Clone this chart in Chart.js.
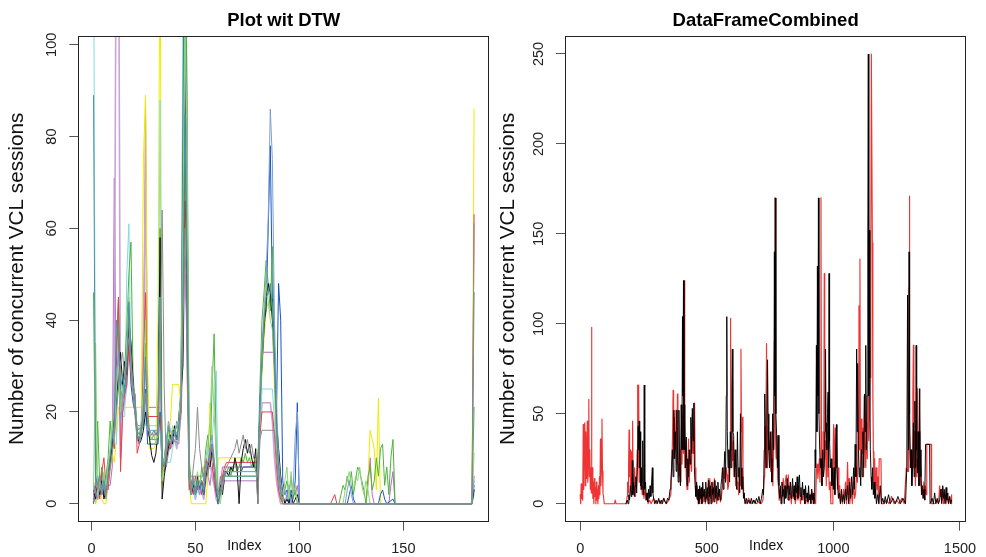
<!DOCTYPE html>
<html><head><meta charset="utf-8">
<script src="https://cdn.jsdelivr.net/npm/chart.js@4.4.1/dist/chart.umd.min.js"></script>
<style>
html,body{margin:0;padding:0;background:#fff;}
#wrap{position:relative;width:986px;height:557px;overflow:hidden;background:#fff;}
canvas{position:absolute;top:0;}
#c1{left:0;} #c2{left:493px;}
</style></head><body>
<div id="wrap"><canvas id="c1" width="493" height="557"></canvas><canvas id="c2" width="493" height="557"></canvas></div>
<script>
// ---------- tick labels ----------
const leftXTicks = [0, 50, 100, 150];
const leftYTicks = [0, 20, 40, 60, 80, 100];
const rightXTicks = [0, 500, 1000, 1500];
const rightYTicks = [0, 50, 100, 150, 200, 250];

// ---------- left panel: "Plot wit DTW" series [index, value] ----------
const dtwGray = [[1,2],[2,5],[3,3],[4,6],[5,2],[6,4],[7,1],[8,5],[9,8],[10,11],[11,15],[12,20],[13,25],[14,30],[15,33],[16,27],[17,32],[18,36],[19,30],[20,24],[21,19],[22,14],[23,13],[24,15],[25,18],[26,24],[27,20],[28,15],[32,15],[33,30],[34,64],[35,25],[36,8],[37,11],[38,13],[39,14],[42,13],[43,20],[44,38],[45,60],[46,28],[47,5],[48,3],[49,8],[50,12],[51,21],[52,12],[53,8],[54,5],[55,9],[56,6],[57,10],[58,13],[59,9],[60,4],[61,2],[62,6],[63,3],[64,7],[65,8],[66,9],[67,10],[68,11],[69,12],[70,14],[71,11],[72,13],[73,15],[74,12],[75,14],[76,11],[77,13],[78,10],[79,9],[80,0],[81,14],[82,16],[88,16],[89,10],[90,5],[91,2],[92,0],[100,0],[183,0],[184,61]];
const dtwTeal = [[1,89],[2,6],[3,4],[4,6],[5,3],[6,5],[7,2],[8,6],[9,10],[10,14],[11,17],[12,40],[13,36],[14,25],[15,28],[16,24],[17,28],[18,44],[19,32],[20,25],[21,22],[22,15],[23,14],[24,16],[25,20],[26,32],[27,17],[28,16],[29,15],[30,16],[31,15],[32,16],[33,45],[34,9],[35,8],[36,11],[37,14],[38,13],[39,15],[40,16],[41,14],[42,17],[43,21],[44,45],[45,85],[46,48],[47,6],[48,3],[49,5],[50,2],[51,5],[52,3],[53,5],[54,2],[55,7],[56,9],[57,11],[58,12],[59,8],[60,3],[61,0],[62,3],[63,5],[64,6],[80,6],[81,20],[82,32],[83,40],[84,45],[85,46],[86,48],[87,42],[88,30],[89,16],[90,8],[91,3],[92,0],[100,0],[183,0],[184,46]];
const dtwLightGreen = [[1,3],[2,35],[3,2],[4,5],[5,3],[6,7],[7,4],[8,9],[9,12],[10,18],[11,14],[12,25],[13,30],[14,20],[15,25],[16,27],[17,33],[18,45],[19,30],[20,24],[21,21],[22,17],[23,16],[24,18],[25,25],[26,40],[27,18],[28,15],[29,14],[30,15],[31,13],[32,15],[33,45],[34,5],[35,9],[36,12],[37,15],[38,13],[39,17],[40,16],[41,15],[42,18],[43,25],[44,60],[45,105],[46,80],[47,7],[48,3],[49,5],[50,4],[51,7],[52,4],[53,6],[54,8],[55,10],[56,13],[57,18],[58,30],[59,20],[60,10],[61,2],[62,0],[63,4],[64,6],[80,6],[81,18],[82,30],[83,40],[84,48],[85,44],[86,40],[87,38],[88,28],[89,12],[90,6],[91,3],[92,0],[93,5],[94,8],[95,1],[96,7],[97,2],[98,4],[99,0],[121,0],[122,3],[123,5],[124,7],[125,4],[126,3],[127,6],[128,5],[129,8],[130,4],[131,2],[132,5],[133,3],[134,0],[183,0],[184,11]];
const dtwSteel = [[1,2],[2,3],[3,1],[4,4],[5,2],[6,6],[7,3],[8,8],[9,11],[10,16],[11,13],[12,28],[13,33],[14,18],[15,22],[16,28],[17,34],[18,42],[19,31],[20,26],[21,23],[22,15],[23,14],[24,16],[25,20],[26,30],[27,16],[33,16],[34,9],[35,10],[36,13],[37,18],[38,16],[39,14],[40,15],[41,18],[42,16],[43,23],[44,50],[45,110],[46,55],[47,6],[48,2],[49,6],[50,3],[51,5],[52,2],[53,4],[54,3],[55,7],[56,9],[57,12],[58,15],[59,10],[60,5],[61,1],[62,3],[63,4],[64,6],[65,7],[79,7],[80,6],[81,22],[82,34],[83,42],[84,50],[85,62],[86,86],[87,75],[88,40],[89,22],[90,10],[91,5],[92,2],[93,3],[94,1],[95,4],[96,0],[97,3],[98,15],[99,20],[100,0],[122,0],[123,3],[124,5],[125,2],[126,0],[183,0],[184,5]];
const dtwBlack = [[1,3],[2,1],[3,4],[4,2],[5,5],[6,1],[7,3],[8,6],[9,9],[10,13],[11,18],[12,24],[13,28],[14,33],[15,26],[16,31],[17,28],[18,40],[19,35],[20,27],[21,20],[22,15],[23,13],[24,14],[25,16],[26,20],[27,17],[28,14],[29,10.5],[30,9],[31,11],[32,16],[33,58],[34,1],[35,6],[36,9],[37,12],[38,15],[39,13],[40,17],[41,14],[42,19],[43,24],[44,30],[45,96],[46,38],[47,6],[48,2],[49,4],[50,3],[51,6],[52,3],[53,5],[54,2],[55,6],[56,9],[57,8],[58,12],[59,8],[60,3],[61,0],[62,4],[63,2],[64,6],[65,7],[66,6],[67,8],[68,7],[69,10],[70,8],[71,0],[72,9],[73,12],[74,14],[75,11],[76,13],[77,10],[78,8],[79,12],[80,0],[81,22],[82,30],[83,38],[84,44],[85,48],[86,46],[87,40],[88,30],[89,18],[90,12],[91,6],[92,2],[93,0],[94,1],[95,0],[96,2],[97,0],[98,1],[99,2],[100,0],[183,0],[184,3]];
const dtwRed = [[1,4],[2,2],[3,5],[4,1],[5,7],[6,10],[7,4],[8,3],[9,8],[10,14],[11,12],[12,30],[13,45],[14,7],[15,20],[16,24],[17,26],[18,34],[19,28],[20,24],[21,24],[22,11],[23,13],[24,15],[25,30],[26,46],[27,19],[33,19],[34,8],[35,7],[36,10],[37,14],[38,12],[39,15],[40,16],[41,14],[42,18],[43,20],[44,35],[45,66],[46,53],[47,3],[48,5],[49,2],[50,6],[51,3],[52,5],[53,2],[54,4],[55,10],[56,7],[57,12],[58,9],[59,5],[60,2],[61,1],[62,3],[63,6],[64,8],[65,9],[80,9],[81,15],[82,20],[87,20],[88,15],[89,8],[90,3],[91,1],[92,0],[115,0],[117,2],[118,0],[183,0],[184,63]];
const dtwGreen = [[1,46],[2,4],[3,18],[4,4],[5,8],[6,3],[7,6],[8,10],[9,18],[10,12],[11,20],[12,35],[13,45],[14,22],[15,26],[16,30],[17,38],[18,50],[19,57],[20,28],[21,22],[22,16],[23,15],[24,17],[25,22],[26,35],[27,20],[28,14],[32,14],[33,60],[34,6],[35,10],[36,14],[37,17],[38,14],[39,16],[40,15],[41,17],[42,16],[43,22],[44,70],[45,130],[46,90],[47,10],[48,4],[49,6],[50,2],[51,5],[52,3],[53,8],[54,6],[55,12],[56,15],[57,10],[58,25],[59,37],[60,12],[61,0],[62,2],[63,6],[64,6],[65,7],[66,8],[67,6],[68,8],[69,9],[70,7],[71,8],[72,10],[73,9],[74,11],[75,9],[76,10],[77,8],[78,9],[79,7],[80,8],[81,25],[82,40],[83,46],[84,53],[85,48],[86,42],[87,56],[88,35],[89,14],[90,6],[91,3],[92,1],[93,3],[94,5],[95,2],[96,6],[97,1],[98,3],[99,0],[119,0],[120,2],[121,4],[122,3],[123,6],[124,4],[125,7],[126,2],[127,5],[128,8],[129,7],[130,5],[131,3],[132,0],[133,6],[134,8],[135,3],[136,5],[137,10],[138,6],[139,12],[140,13],[141,4],[142,8],[143,2],[144,10],[145,14],[146,0],[183,0],[184,21]];
const dtwBlue = [[1,0],[2,4],[3,6],[4,3],[5,5],[6,2],[7,5],[8,7],[9,10],[10,14],[11,16],[12,22],[13,28],[14,20],[15,24],[16,26],[17,30],[18,36],[19,26],[20,22],[21,20],[22,16],[25,17],[26,25],[27,13],[32,13],[33,20],[34,10],[35,8],[36,12],[37,17],[38,14],[39,16],[40,16],[41,15],[42,17],[43,20],[44,80],[45,150],[46,70],[47,8],[48,3],[49,5],[50,2],[51,4],[52,3],[53,5],[54,2],[55,6],[56,8],[57,11],[58,13],[59,9],[60,4],[61,0],[62,3],[63,5],[64,7],[72,7],[73,8],[80,8],[81,20],[82,32],[83,40],[84,42],[85,60],[86,78],[87,45],[88,35],[89,20],[90,48],[91,40],[92,5],[93,2],[94,3],[95,0],[96,3],[97,1],[98,5],[99,22],[100,0],[123,0],[124,2],[125,4],[126,1],[127,0],[138,0],[139,2],[140,3],[141,1],[142,0],[145,1],[146,0],[183,0],[184,4]];
const dtwCyan = [[1,130],[2,6],[8,6],[9,9],[10,12],[11,13],[12,13],[13,40],[14,20],[15,19],[16,19],[17,50],[18,61],[19,30],[20,24],[21,22],[22,14],[23,15],[24,17],[25,28],[26,17],[32,17],[33,88],[34,5],[35,9],[38,9],[39,12],[40,14],[41,13],[42,16],[43,22],[44,110],[45,130],[46,60],[47,5],[48,2],[49,4],[50,1],[51,3],[52,5],[53,2],[54,4],[55,6],[56,12],[57,10],[58,14],[59,20],[60,29],[61,0],[62,2],[63,4],[64,7],[80,7],[81,15],[82,25],[87,25],[88,18],[89,10],[90,4],[91,2],[92,0],[100,0],[183,0],[184,2]];
const dtwYellow = [[1,3],[2,0],[3,2],[4,5],[5,1],[6,0],[7,0],[8,4],[9,7],[10,11],[11,9],[12,14],[13,21],[24,21],[25,75],[26,89],[27,30],[28,12],[30,12],[31,13],[32,40],[33,130],[34,4],[35,8],[36,12],[37,15],[38,18],[39,26],[42,26],[43,22],[44,94],[45,70],[46,40],[47,4],[48,0],[55,0],[56,6],[57,22],[58,14],[59,8],[60,4],[61,10],[80,10],[81,18],[82,28],[83,36],[84,42],[85,44],[86,44],[87,40],[88,25],[89,10],[90,4],[91,1],[92,0],[132,0],[133,5],[134,16],[135,14],[136,12],[137,3],[138,23],[139,0],[183,0],[184,86]];
const dtwLilac = [[1,1],[2,3],[3,1],[4,3],[5,2],[6,5],[7,2],[8,6],[9,8],[10,10],[11,30],[12,140],[13,140],[14,10],[15,20],[16,22],[17,26],[18,38],[19,30],[20,24],[21,20],[22,15],[23,14],[24,16],[25,40],[26,70],[27,15],[28,15],[29,14],[30,15],[31,16],[32,14],[33,30],[34,7],[35,8],[36,11],[37,14],[38,12],[39,13],[40,14],[41,12],[42,15],[43,19],[44,35],[45,50],[46,40],[47,4],[48,2],[49,3],[50,1],[51,4],[52,2],[53,3],[54,1],[55,5],[56,7],[57,9],[58,6],[59,4],[60,1],[61,0],[62,2],[63,3],[64,5],[80,5],[81,15],[82,22],[86,22],[87,18],[88,10],[89,5],[90,2],[91,0],[100,0],[183,0],[184,3]];
const dtwPurple = [[1,2],[2,0],[3,4],[4,2],[5,6],[6,3],[7,4],[9,4],[10,8],[11,71],[12,20],[13,35],[14,18],[15,22],[16,25],[17,30],[18,43],[19,34],[20,24],[21,21],[22,17],[25,17],[26,88],[27,21],[33,21],[34,10],[35,7],[36,10],[37,12],[38,13],[39,14],[40,15],[41,13],[42,16],[43,20],[44,40],[45,60],[46,53],[47,6],[56,6],[57,4],[58,8],[59,5],[60,2],[61,0],[62,4],[63,8],[80,8],[81,20],[82,33],[88,33],[89,15],[90,6],[91,6],[92,2],[93,0],[94,2],[95,4],[96,1],[97,3],[98,2],[99,4],[100,0],[132,0],[133,4],[134,10],[135,2],[136,0],[143,0],[144,4],[145,7],[146,0],[183,0],[184,6]];

// ---------- right panel: "DataFrameCombined" series [index, value] ----------
const dfBlack = [[180,0],[186,2],[189,0],[192,5],[195,2],[198,10],[201,4],[204,8],[206,24],[208,5],[211,12],[214,4],[217,10],[220,15],[223,6],[226,20],[229,43],[231,30],[233,46],[235,20],[237,40],[239,10],[241,20],[243,8],[245,12],[247,35],[249,5],[251,10],[253,66],[255,8],[258,12],[261,2],[264,6],[267,1],[270,8],[273,3],[276,10],[279,4],[282,12],[285,20],[287,6],[290,3],[294,0],[300,2],[305,0],[310,3],[315,0],[320,2],[325,0],[330,3],[335,1],[340,0],[345,3],[350,2],[355,8],[358,12],[361,20],[364,30],[367,15],[370,52],[373,25],[376,40],[379,18],[382,52],[384,30],[387,12],[390,52],[393,20],[396,10],[399,55],[402,30],[404,104],[406,60],[408,124],[410,30],[413,55],[416,20],[419,37],[422,10],[425,25],[428,15],[431,30],[434,22],[437,48],[440,28],[443,53],[446,35],[449,56],[451,20],[454,10],[457,4],[460,12],[463,2],[466,8],[469,0],[472,10],[475,3],[478,9],[481,0],[484,12],[487,4],[490,8],[493,1],[496,12],[499,3],[502,9],[505,0],[508,13],[511,4],[514,10],[517,0],[520,12],[523,5],[526,9],[529,1],[532,13],[535,3],[538,10],[541,2],[544,12],[547,4],[550,8],[553,2],[556,10],[559,14],[562,20],[565,8],[568,18],[571,29],[574,12],[577,60],[579,104],[581,40],[584,20],[587,30],[590,12],[593,40],[596,20],[599,62],[601,86],[603,40],[606,38],[609,15],[612,30],[615,20],[618,8],[621,40],[624,15],[627,20],[630,6],[633,50],[636,20],[639,8],[642,15],[645,3],[648,6],[651,0],[656,3],[661,0],[666,2],[671,0],[676,3],[681,0],[686,2],[691,0],[696,3],[701,1],[706,4],[711,0],[716,3],[721,8],[724,5],[727,30],[729,61],[731,40],[734,20],[737,30],[740,80],[742,50],[745,30],[748,20],[751,40],[754,25],[757,12],[760,50],[763,30],[765,38],[767,140],[769,60],[771,170],[773,50],[776,38],[779,20],[782,38],[785,10],[788,3],[791,10],[794,0],[797,12],[800,4],[803,8],[806,0],[809,10],[812,3],[815,6],[818,14],[821,2],[824,10],[827,5],[830,12],[833,3],[836,8],[839,14],[842,4],[845,10],[848,2],[851,12],[854,6],[857,15],[860,3],[863,10],[866,16],[869,4],[872,9],[875,2],[878,12],[881,5],[884,8],[887,0],[890,10],[893,3],[896,6],[899,1],[902,10],[905,2],[908,5],[911,0],[914,8],[917,2],[920,6],[923,0],[926,4],[928,30],[930,20],[933,88],[935,40],[937,132],[939,60],[941,170],[943,50],[946,30],[949,20],[952,25],[955,10],[958,30],[961,15],[964,20],[967,40],[969,86],[971,45],[974,30],[977,50],[979,62],[981,20],[983,128],[985,35],[988,20],[991,25],[994,10],[997,20],[1000,8],[1003,20],[1006,5],[1009,30],[1012,44],[1014,20],[1017,10],[1020,3],[1024,6],[1028,0],[1032,8],[1036,1],[1040,5],[1044,0],[1048,8],[1052,2],[1056,10],[1060,0],[1064,12],[1068,3],[1072,15],[1076,5],[1080,20],[1083,8],[1086,33],[1089,15],[1092,86],[1094,40],[1096,78],[1099,30],[1102,15],[1105,20],[1108,10],[1111,30],[1114,15],[1117,40],[1120,20],[1123,61],[1126,40],[1128,88],[1130,30],[1133,60],[1136,141],[1138,250],[1140,60],[1142,152],[1144,70],[1146,30],[1149,15],[1152,8],[1155,20],[1158,5],[1161,12],[1164,3],[1167,8],[1170,0],[1175,5],[1180,0],[1185,10],[1190,0],[1195,3],[1200,0],[1205,4],[1210,0],[1218,5],[1225,0],[1235,3],[1245,0],[1255,4],[1265,0],[1275,3],[1285,0],[1290,20],[1293,116],[1295,30],[1297,40],[1299,140],[1301,50],[1304,20],[1307,30],[1310,10],[1313,20],[1316,45],[1319,15],[1322,57],[1325,20],[1327,88],[1329,30],[1332,17],[1335,40],[1338,10],[1341,64],[1343,30],[1346,15],[1349,5],[1352,10],[1355,3],[1358,8],[1361,2],[1364,33],[1380,33],[1382,0],[1390,3],[1395,0],[1400,6],[1405,0],[1410,3],[1415,0],[1420,2],[1425,8],[1428,0],[1432,10],[1435,3],[1438,8],[1441,0],[1445,9],[1448,2],[1452,6],[1455,0],[1459,4],[1463,0],[1467,2]];
const dfRed = [[0,5],[2,0],[4,11],[6,3],[8,10],[10,2],[12,44],[14,8],[16,36],[18,45],[20,10],[22,40],[24,14],[26,30],[28,46],[30,12],[32,25],[34,58],[36,15],[38,30],[40,8],[42,20],[44,6],[45,98],[46,10],[48,20],[50,3],[52,12],[54,0],[56,14],[58,4],[60,9],[62,0],[64,12],[66,2],[68,8],[70,0],[72,10],[74,3],[76,15],[78,5],[80,36],[82,10],[84,20],[86,47],[88,18],[90,6],[92,4],[95,0],[136,0],[138,2],[140,2],[142,0],[183,0],[185,4],[187,12],[189,6],[191,20],[193,41],[195,15],[197,30],[199,10],[201,29],[203,5],[205,22],[207,46],[209,12],[212,8],[215,20],[218,4],[222,10],[225,30],[227,66],[229,20],[231,66],[233,12],[236,25],[239,8],[242,14],[245,5],[248,10],[252,3],[256,8],[260,2],[265,5],[268,0],[275,2],[280,0],[290,3],[300,0],[310,2],[320,0],[330,3],[340,0],[350,2],[358,5],[362,20],[365,40],[367,63],[369,25],[372,48],[375,30],[378,52],[381,22],[384,61],[386,28],[389,15],[392,22],[395,12],[398,30],[402,22],[405,50],[408,28],[411,124],[413,20],[416,35],[419,15],[422,8],[425,20],[428,36],[431,12],[434,25],[437,30],[440,18],[443,50],[446,28],[449,38],[452,56],[454,20],[457,8],[460,3],[463,10],[466,0],[469,6],[472,2],[475,8],[478,0],[482,5],[486,1],[490,8],[494,0],[498,6],[502,2],[506,14],[509,0],[512,14],[515,3],[518,8],[521,1],[524,12],[527,2],[530,14],[533,4],[536,8],[539,0],[542,6],[546,2],[550,8],[554,1],[558,4],[562,10],[565,20],[568,14],[571,18],[574,12],[577,20],[580,16],[583,8],[586,10],[589,30],[592,20],[594,103],[596,30],[599,40],[602,24],[605,35],[608,15],[611,28],[614,10],[617,20],[620,8],[623,12],[626,5],[629,20],[632,10],[635,86],[637,40],[640,48],[643,20],[646,5],[650,2],[655,0],[665,3],[675,0],[685,2],[695,0],[705,1],[715,0],[722,2],[727,15],[729,43],[731,20],[733,30],[736,89],[738,40],[740,20],[743,43],[746,30],[749,35],[752,18],[755,40],[758,25],[761,10],[764,30],[767,90],[769,170],[771,40],[774,25],[777,38],[780,14],[783,10],[786,2],[790,8],[794,0],[798,5],[802,14],[806,4],[810,12],[814,16],[818,8],[822,16],[826,2],[830,6],[834,0],[838,10],[842,3],[846,8],[850,0],[855,6],[860,2],[865,10],[870,0],[875,5],[880,2],[885,8],[890,0],[895,3],[900,0],[905,5],[910,2],[915,8],[920,0],[925,3],[930,0],[933,18],[936,22],[939,14],[942,20],[945,25],[947,12],[949,22],[951,170],[953,30],[956,22],[959,40],[962,20],[964,128],[966,25],[969,35],[972,10],[975,40],[978,15],[981,22],[984,8],[987,12],[990,0],[995,0],[998,20],[1001,44],[1004,10],[1007,42],[1010,20],[1013,30],[1016,8],[1019,20],[1022,3],[1025,10],[1028,0],[1032,5],[1036,0],[1040,8],[1044,2],[1048,12],[1052,0],[1056,23],[1059,5],[1062,14],[1065,0],[1070,8],[1075,0],[1080,12],[1084,3],[1088,6],[1092,20],[1095,12],[1098,40],[1101,110],[1103,30],[1105,136],[1107,20],[1110,47],[1113,28],[1116,42],[1119,15],[1122,60],[1125,30],[1128,20],[1131,45],[1134,25],[1137,60],[1140,35],[1143,50],[1146,70],[1148,145],[1150,250],[1152,250],[1154,145],[1156,60],[1158,29],[1160,10],[1163,25],[1166,5],[1169,20],[1172,8],[1175,15],[1178,0],[1181,25],[1188,25],[1190,0],[1200,0],[1210,2],[1220,0],[1230,4],[1240,0],[1250,2],[1260,0],[1270,3],[1280,0],[1288,20],[1291,18],[1294,30],[1297,18],[1299,120],[1300,171],[1302,40],[1305,20],[1308,30],[1311,20],[1314,60],[1316,88],[1318,20],[1321,40],[1324,10],[1327,25],[1330,15],[1333,64],[1336,20],[1339,40],[1342,10],[1345,20],[1348,5],[1351,8],[1354,3],[1357,12],[1360,5],[1363,10],[1366,5],[1369,33],[1386,33],[1388,0],[1400,0],[1410,2],[1415,0],[1420,10],[1423,4],[1426,8],[1429,2],[1432,9],[1435,0],[1440,5],[1445,0],[1450,3],[1455,0],[1460,4],[1465,0],[1467,5]];

// ---------- chart construction ----------
const FONT = "'Liberation Sans', Arial, sans-serif";
const yLabelPlugin = {
  id: 'rotatedYTicks',
  afterDraw(chart, args, opts) {
    const ctx = chart.ctx, ys = chart.scales.y, ca = chart.chartArea;
    ctx.save();
    ctx.fillStyle = '#222';
    ctx.font = '14.5px ' + FONT;
    ctx.textAlign = 'center';
    ctx.textBaseline = 'middle';
    ys.ticks.forEach(t => {
      const py = ys.getPixelForValue(t.value);
      ctx.save();
      ctx.translate(ca.left - 26.5, py);
      ctx.rotate(-Math.PI / 2);
      ctx.fillText(String(t.value), 0, 0);
      ctx.restore();
    });
    // frame
    ctx.strokeStyle = '#222';
    ctx.lineWidth = 1;
    const l = Math.round(ca.left) + 0.5, t = Math.round(ca.top) + 0.5;
    const r = Math.round(ca.right) - 0.5, b = Math.round(ca.bottom) - 0.5;
    ctx.strokeRect(l, t, r - l, b - t);
    // x axis title
    const xs = chart.scales.x;
    ctx.fillStyle = '#111';
    ctx.font = '14px ' + FONT;
    ctx.textBaseline = 'middle';
    ctx.fillText('Index', xs.getPixelForValue(opts.indexAt), 546);
    ctx.restore();
  }
};

function makeChart(id, cfg) {
  const datasets = cfg.series.map(s => ({
    data: s.pts.map(p => ({x: p[0], y: p[1]})),
    borderColor: s.color,
    borderWidth: s.width || 1,
    pointRadius: 0,
    tension: 0,
    fill: false,
    borderJoinStyle: 'round',
    borderCapStyle: 'round'
  }));
  return new Chart(document.getElementById(id), {
    type: 'line',
    data: {datasets},
    options: {
      responsive: false,
      animation: false,
      devicePixelRatio: 1,
      layout: {padding: {left: 0, top: 0, right: cfg.padRight, bottom: 0}},
      plugins: {
        legend: {display: false},
        tooltip: {enabled: false},
        rotatedYTicks: {indexAt: cfg.indexAt},
        title: {
          display: true, text: cfg.title, fullSize: false, color: '#000',
          font: {family: FONT, size: 18.5, weight: 'bold'},
          padding: {top: 10.3, bottom: 3.5}
        }
      },
      scales: {
        x: {
          type: 'linear', min: cfg.xMin, max: cfg.xMax,
          afterFit(s) { s.height = 35.3; },
          afterBuildTicks(s) { s.ticks = cfg.xTicks.map(v => ({value: v})); },
          grid: {drawOnChartArea: false, drawTicks: true, tickLength: 9, color: '#555'},
          border: {display: false},
          ticks: {font: {family: FONT, size: 14.5}, color: '#222', padding: 9.6, maxRotation: 0, minRotation: 0, autoSkip: false,
                  callback: v => String(v)}
        },
        y: {
          type: 'linear', min: cfg.yMin, max: cfg.yMax,
          afterFit(s) { s.width = cfg.yWidth; },
          afterBuildTicks(s) { s.ticks = cfg.yTicks.map(v => ({value: v})); },
          grid: {drawOnChartArea: false, drawTicks: true, tickLength: 9, color: '#555'},
          border: {display: false},
          ticks: {display: false},
          title: {
            display: true, text: 'Number of concurrent VCL sessions', color: '#111',
            font: {family: FONT, size: 20.7},
            padding: {top: cfg.yTitlePad, bottom: 0}
          }
        }
      }
    },
    plugins: [yLabelPlugin]
  });
}

makeChart('c1', {
  title: 'Plot wit DTW',
  xMin: -6.32, xMax: 191.32, yMin: -3.92, yMax: 101.92,
  xTicks: leftXTicks, yTicks: leftYTicks,
  yWidth: 78.3, padRight: 3.7, yTitlePad: 5.1, indexAt: 73.5,
  series: [
    {pts: dtwGray, color: '#8c8c8c'},
    {pts: dtwTeal, color: '#4f8fa0'},
    {pts: dtwLightGreen, color: '#93d27b'},
    {pts: dtwSteel, color: '#7d9fd6'},
    {pts: dtwBlack, color: '#111111'},
    {pts: dtwRed, color: '#e2404f'},
    {pts: dtwGreen, color: '#4db33d'},
    {pts: dtwBlue, color: '#1a56c0'},
    {pts: dtwCyan, color: '#86d9e6'},
    {pts: dtwYellow, color: '#ecec00'},
    {pts: dtwLilac, color: '#c9a3d9', width: 1.6},
    {pts: dtwPurple, color: '#b56ac3'}
  ]
});

makeChart('c2', {
  title: 'DataFrameCombined',
  xMin: -60, xMax: 1525, yMin: -10, yMax: 260,
  xTicks: rightXTicks, yTicks: rightYTicks,
  yWidth: 72, padRight: 11, yTitlePad: 2.6, indexAt: 734.5,
  series: [
    {pts: dfBlack, color: 'rgba(0,0,0,0.95)'},
    {pts: dfRed, color: 'rgba(236,30,30,0.9)', width: 1.15}
  ]
});
</script>
</body></html>
